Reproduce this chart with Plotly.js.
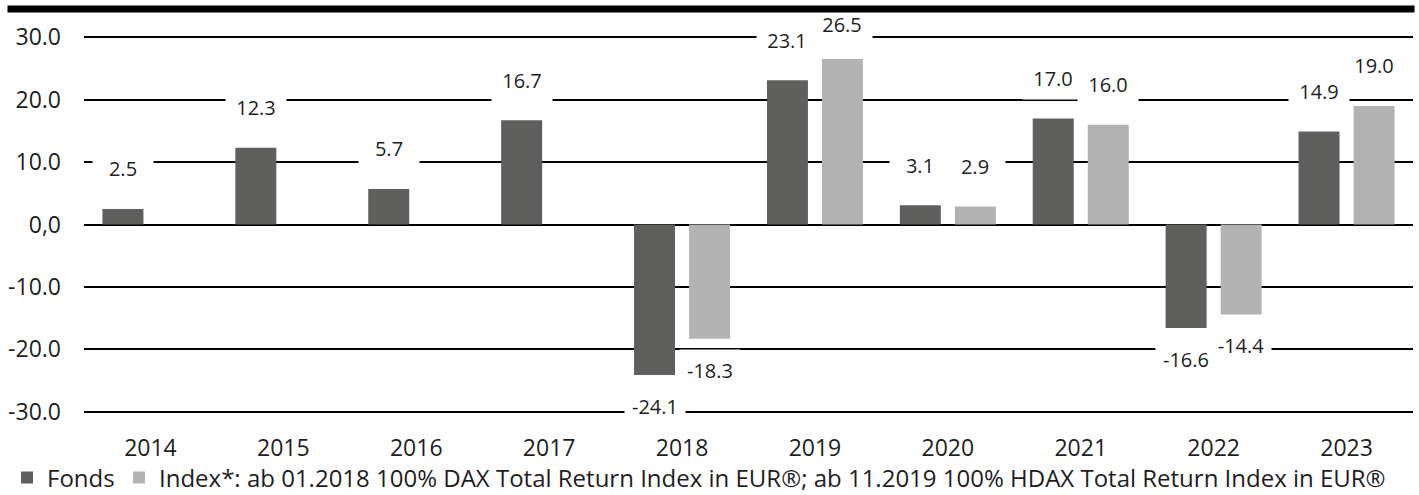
<!DOCTYPE html>
<html>
<head>
<meta charset="utf-8">
<script src="https://cdn.plot.ly/plotly-3.0.1.min.js"></script>
<style>
html,body{margin:0;padding:0;background:#fff;}
#chart{width:1419px;height:495px;}
</style>
</head>
<body>
<div id="chart"></div>
<script>
// ---- data ----
var years = ["2014","2015","2016","2017","2018","2019","2020","2021","2022","2023"];
var fondsValues = [2.5, 12.3, 5.7, 16.7, -24.1, 23.1, 3.1, 17.0, -16.6, 14.9];
var indexValues = [null, null, null, null, -18.3, 26.5, 2.9, 16.0, -14.4, 19.0];
var fondsName = "Fonds";
var indexName = "Index*: ab 01.2018 100% DAX Total Return Index in EUR®; ab 11.2019 100% HDAX Total Return Index in EUR®";
var yTickVals = [-30, -20, -10, 0, 10, 20, 30];
var yTickText = ["-30.0", "-20.0", "-10.0", "0,0", "10.0", "20.0", "30.0"];

// ---- style ----
var FONT = "'Open Sans', 'Noto Sans', sans-serif";
var TXT = "#1e1e1e";
var cDark = "#5f5f5d";
var cLight = "#b3b3b3";
var W = 1419, H = 495;
var M = {l: 84, r: 6, t: 36, b: 82};
var yMin = -30.2, yMax = 30.2; // slight pad so the ±30 grid lines are drawn
var plotH = H - M.t - M.b;
var plotW = W - M.l - M.r;
var pxPerUnit = plotH / (yMax - yMin);
var bargap = 0.172, bargroupgap = 0.255;
var slotOffset = (1 - bargap) / 4; // bar centre offset in category units
var ruleLeftPx = 7, ruleY = 8.5, ruleThick = 6;
var legendFont = {family: FONT, size: 24, color: TXT};

var traces = [
  {type: "bar", name: fondsName, x: years, y: fondsValues, marker: {color: cDark}, hoverinfo: "x+y", legend: "legend"},
  {type: "bar", name: indexName, x: years, y: indexValues, marker: {color: cLight}, hoverinfo: "x+y", legend: "legend2"}
];

function fmt(v){ return v.toFixed(1); }

var annotations = [];
function addLabels(vals, sign){
  vals.forEach(function(v, i){
    if (v === null || v === undefined) return;
    var shift;
    if (v >= 0) {
      var room = (yMax - v) * pxPerUnit + 11; // keep clear of the top rule
      shift = Math.min(40, room);
    } else {
      shift = -31.5;
    }
    annotations.push({
      xref: "x", yref: "y", x: i + sign * slotOffset, y: v,
      yshift: shift, showarrow: false, text: fmt(v),
      font: {family: FONT, size: 20, color: TXT},
      bgcolor: "#ffffff", borderpad: 7, width: 46,
      xanchor: "center", yanchor: "middle"
    });
  });
}
addLabels(fondsValues, -1);
addLabels(indexValues, 1);

// thick top rule, drawn last so it sits above the label boxes
annotations.push({
  xref: "paper", yref: "paper",
  x: (ruleLeftPx - M.l) / plotW, xanchor: "left",
  y: (H - M.b - ruleY) / plotH, yanchor: "middle",
  text: " ", font: {size: 2, color: "#000"},
  showarrow: false, bgcolor: "#000000", borderpad: 0,
  width: W - M.r - ruleLeftPx, height: ruleThick
});

function legendAt(px){
  return {
    orientation: "h", x: px / W, xref: "container", xanchor: "left",
    y: 17 / H, yref: "container", yanchor: "middle",
    font: legendFont, itemclick: false, itemdoubleclick: false,
    bgcolor: "rgba(0,0,0,0)"
  };
}

var layout = {
  width: W, height: H,
  margin: M,
  paper_bgcolor: "#ffffff", plot_bgcolor: "#ffffff",
  font: {family: FONT, size: 23, color: TXT},
  barmode: "group", bargap: bargap, bargroupgap: bargroupgap,
  showlegend: true,
  legend: legendAt(7),
  legend2: legendAt(119),
  xaxis: {
    type: "category", showgrid: false, zeroline: false, showline: false,
    ticks: "", ticklabelstandoff: 19,
    tickfont: {family: FONT, size: 23, color: TXT}, fixedrange: true
  },
  yaxis: {
    range: [yMin, yMax], tickvals: yTickVals, ticktext: yTickText,
    showgrid: true, gridcolor: "#000000", gridwidth: 2,
    zeroline: true, zerolinecolor: "#000000", zerolinewidth: 2,
    showline: false, ticks: "", ticklabelstandoff: 22,
    tickfont: {family: FONT, size: 23, color: TXT}, fixedrange: true
  },
  annotations: annotations
};

Plotly.newPlot("chart", traces, layout, {displayModeBar: false, staticPlot: true});
</script>
</body>
</html>
